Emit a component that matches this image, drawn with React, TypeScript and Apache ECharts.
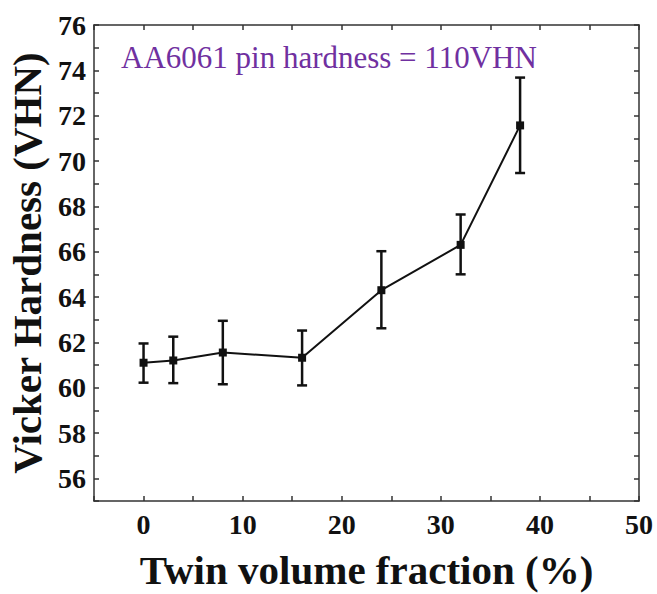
import React, { useEffect, useRef } from "react";
import * as echarts from "echarts";

const twinFraction = [0, 3, 8, 16, 24, 32, 38];
const hardness = [61.1, 61.2, 61.55, 61.32, 64.3, 66.3, 71.57];
const errLow = [60.22, 60.2, 60.15, 60.1, 62.62, 65.0, 69.47];
const errHigh = [61.95, 62.25, 62.95, 62.52, 66.02, 67.64, 73.68];
const xTickLabels = [0, 10, 20, 30, 40, 50];
const yTickLabels = [56, 58, 60, 62, 64, 66, 68, 70, 72, 74, 76];
const annotation = "AA6061 pin hardness = 110VHN";
const xTitle = "Twin volume fraction (%)";
const yTitle = "Vicker Hardness (VHN)";

const SERIF = "Liberation Serif, Times New Roman, serif";
const AXIS_COLOR = "#333";

export default function App() {
  const ref = useRef<HTMLDivElement>(null);
  useEffect(() => {
    document.body.style.margin = "0";
    if (!ref.current) return;
    const chart = echarts.init(ref.current, null, { renderer: "svg" });
    const points = twinFraction.map((x, i) => [x, hardness[i]]);
    const bars = twinFraction.map((x, i) => [x, errLow[i], errHigh[i]]);
    const labelStyle = {
      fontFamily: SERIF,
      fontWeight: "bold" as const,
      fontSize: 28,
      color: "#111",
    };
    const commonX = {
      type: "value" as const,
      min: -5,
      max: 50,
      interval: 5,
      splitLine: { show: false },
      axisLine: { show: true, onZero: false, lineStyle: { color: AXIS_COLOR, width: 1.5 } },
      axisTick: { show: true, inside: true, length: 5, lineStyle: { color: AXIS_COLOR, width: 1.5 } },
    };
    const commonY = {
      type: "value" as const,
      min: 55,
      max: 76,
      interval: 1,
      splitLine: { show: false },
      axisLine: { show: true, onZero: false, lineStyle: { color: AXIS_COLOR, width: 1.5 } },
      axisTick: { show: true, inside: true, length: 5, lineStyle: { color: AXIS_COLOR, width: 1.5 } },
    };
    chart.setOption({
      animation: false,
      backgroundColor: "#fff",
      grid: { left: 94, right: 18, top: 25, bottom: 93, containLabel: false, outerBoundsMode: "none" },
      xAxis: [
        {
          ...commonX,
          position: "bottom",
          name: xTitle,
          nameLocation: "middle",
          nameGap: 48,
          nameTextStyle: { fontFamily: SERIF, fontWeight: "bold", fontSize: 41, color: "#111" },
          axisLabel: {
            ...labelStyle,
            margin: 9,
            formatter: (v: number) => (xTickLabels.includes(v) ? String(v) : ""),
          },
        },
        {
          ...commonX,
          position: "top",
          axisLabel: { show: false },
        },
      ],
      yAxis: [
        {
          ...commonY,
          position: "left",
          name: yTitle,
          nameLocation: "middle",
          nameGap: 46,
          nameTextStyle: { fontFamily: SERIF, fontWeight: "bold", fontSize: 41, color: "#111" },
          axisLabel: {
            ...labelStyle,
            margin: 8,
            formatter: (v: number) => (yTickLabels.includes(v) ? String(v) : ""),
          },
        },
        {
          ...commonY,
          position: "right",
          axisLabel: { show: false },
        },
      ],
      graphic: [
        {
          type: "text",
          left: 121,
          top: 42,
          style: {
            text: annotation,
            fill: "#7030A0",
            fontFamily: SERIF,
            fontSize: 31,
          },
        },
      ],
      series: [
        {
          type: "custom",
          xAxisIndex: 0,
          yAxisIndex: 0,
          data: bars,
          renderItem: (params: any, api: any) => {
            const x = api.value(0);
            const lo = api.coord([x, api.value(1)]);
            const hi = api.coord([x, api.value(2)]);
            const hw = 5;
            const style = { stroke: "#111", lineWidth: 2.5 };
            return {
              type: "group",
              children: [
                { type: "line", shape: { x1: lo[0], y1: lo[1], x2: hi[0], y2: hi[1] }, style },
                { type: "line", shape: { x1: lo[0] - hw, y1: lo[1], x2: lo[0] + hw, y2: lo[1] }, style },
                { type: "line", shape: { x1: hi[0] - hw, y1: hi[1], x2: hi[0] + hw, y2: hi[1] }, style },
              ],
            };
          },
          z: 3,
        },
        {
          type: "line",
          xAxisIndex: 0,
          yAxisIndex: 0,
          data: points,
          symbol: "rect",
          symbolSize: 8,
          lineStyle: { color: "#111", width: 2 },
          itemStyle: { color: "#111" },
          z: 4,
        },
      ],
    });
    return () => chart.dispose();
  }, []);
  return <div ref={ref} style={{ width: 657, height: 594 }} />;
}
